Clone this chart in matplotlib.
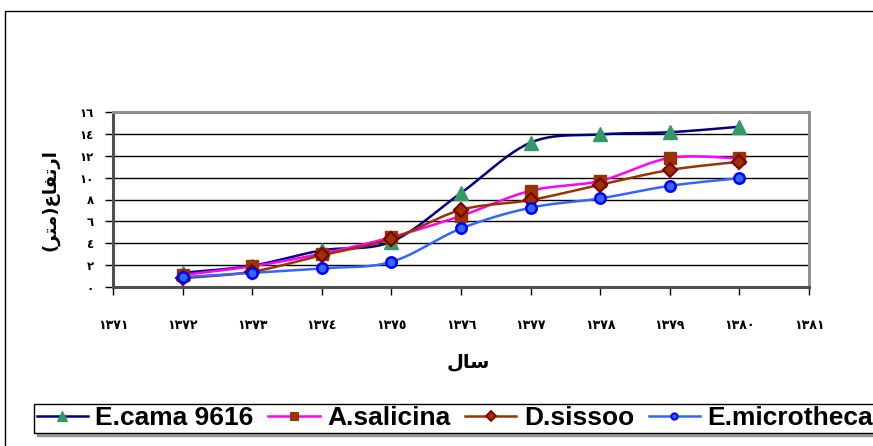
import numpy as np
import matplotlib
matplotlib.use("Agg")
import matplotlib.pyplot as plt
from matplotlib.patches import Rectangle

# ---- data -------------------------------------------------------------
years = [1372, 1373, 1374, 1375, 1376, 1377, 1378, 1379, 1380]
e_cama = [1.3, 1.95, 3.35, 4.15, 8.6, 13.2, 13.95, 14.15, 14.65]
a_salicina = [1.1, 1.9, 3.05, 4.55, 6.5, 8.8, 9.7, 11.8, 11.75]
d_sissoo = [0.8, 1.4, 2.9, 4.4, 7.05, 7.95, 9.35, 10.7, 11.45]
e_microtheca = [0.9, 1.3, 1.7, 2.3, 5.35, 7.25, 8.1, 9.25, 9.95]

series_names = ["E.cama 9616", "A.salicina", "D.sissoo", "E.microtheca"]

x_ticks = list(range(1371, 1382))
y_ticks = list(range(0, 17, 2))

AR_DIGITS = str.maketrans("0123456789", "\u0660\u0661\u0662\u0663\u0664\u0665\u0666\u0667\u0668\u0669")
x_tick_labels = [str(v).translate(AR_DIGITS) for v in x_ticks]
y_tick_labels = [str(v).translate(AR_DIGITS) for v in y_ticks]

# Arabic-script labels written in visual (shaped, left-to-right) order
x_label = "\uFEDD\uFE8E\uFEB3"  # سال
y_label = "(\uFEAE\uFE98\uFEE3)\uFEC9\uFE8E\uFED4\uFE97\uFEAD\uFE8D"  # ارتفاع(متر)


def smooth(xs, ys, n=24):
    """Catmull-Rom curve through the points (Excel-style smoothed line)."""
    p = np.column_stack([xs, ys]).astype(float)
    p = np.vstack([p[0], p, p[-1]])
    out = []
    t = np.linspace(0, 1, n, endpoint=False)
    for i in range(1, len(p) - 2):
        p0, p1, p2, p3 = p[i - 1], p[i], p[i + 1], p[i + 2]
        c1 = p1 + (p2 - p0) / 6.0
        c2 = p2 - (p3 - p1) / 6.0
        tt = t[:, None]
        seg = ((1 - tt) ** 3) * p1 + 3 * ((1 - tt) ** 2) * tt * c1 \
            + 3 * (1 - tt) * tt ** 2 * c2 + tt ** 3 * p2
        out.append(seg)
    out.append(p[-2][None, :])
    out = np.vstack(out)
    return out[:, 0], out[:, 1]


styles = [
    dict(color="#000080", marker="^", mfc="#339966", mec="#339966", ms=10.5, mew=1, lms=7),
    dict(color="#FF00FF", marker="s", mfc="#993300", mec="#993300", ms=8, mew=1, lms=5.5),
    dict(color="#993300", marker="D", mfc="#993300", mec="#800000", ms=7.5, mew=1.6, lms=5.5),
    dict(color="#3366FF", marker="o", mfc="#3366FF", mec="#0000FF", ms=7.5, mew=1.8, lms=4.5),
]

fig = plt.figure(figsize=(8.73, 4.46), dpi=100)
fig.patch.set_facecolor("white")

# outer chart border
fig.add_artist(Rectangle((5 / 873, -0.2), 1.2, (446 - 11) / 446 + 0.2,
                         transform=fig.transFigure, fill=False,
                         edgecolor="black", linewidth=1.0))

ax = fig.add_axes([113 / 873, (446 - 287) / 446, (809 - 113) / 873, (287 - 112) / 446])
ax.set_facecolor("white")

handles = []
for name, ys, st in zip(series_names, [e_cama, a_salicina, d_sissoo, e_microtheca], styles):
    sx, sy = smooth(years, ys)
    ax.plot(sx, sy, color=st["color"], lw=1.8, zorder=3)
    ax.plot(years, ys, linestyle="none", marker=st["marker"], ms=st["ms"],
            mfc=st["mfc"], mec=st["mec"], mew=st["mew"], zorder=4)
    h, = ax.plot([], [], color=st["color"], lw=1.8, marker=st["marker"],
                 ms=st["lms"], mfc=st["mfc"], mec=st["mec"], mew=st["mew"] * 0.8)
    handles.append(h)

ax.set_xlim(1371, 1381)
ax.set_ylim(0, 16)
ax.set_xticks(x_ticks)
ax.set_xticklabels(x_tick_labels, fontsize=9, family="DejaVu Sans", fontweight="bold")
ax.set_yticks(y_ticks)
ax.set_yticklabels(y_tick_labels, fontsize=8.5, family="DejaVu Sans", fontweight="bold")
ax.tick_params(axis="x", direction="out", length=6, width=1, pad=17, color="black")
ax.tick_params(axis="y", direction="out", length=6, width=1, pad=8, color="black")
ax.yaxis.grid(True, color="black", linewidth=1.0)
ax.set_axisbelow(True)

for side in ["top", "right"]:
    ax.spines[side].set_color("#909090")
    ax.spines[side].set_linewidth(2.2)
for side in ["left", "bottom"]:
    ax.spines[side].set_color("#505050")
    ax.spines[side].set_linewidth(2.2)

fig.text(468 / 873, 1 - 362 / 446, x_label, ha="center", va="center",
         fontsize=14, fontweight="bold", family="DejaVu Sans")
fig.text(50 / 873, 1 - 200 / 446, y_label, ha="center", va="center", rotation=90,
         fontsize=13, fontweight="bold", family="DejaVu Sans")

leg = fig.legend(handles=handles, labels=series_names, loc="lower left",
                 bbox_to_anchor=(34 / 873, (446 - 433) / 446), ncol=4,
                 frameon=True, fancybox=False, shadow=True, borderpad=0.1,
                 borderaxespad=0, handlelength=1.95, handletextpad=0.28,
                 columnspacing=0.55,
                 prop={"family": "Liberation Sans", "weight": "bold", "size": 19})
leg.get_frame().set_edgecolor("black")
leg.get_frame().set_linewidth(1.0)

fig.savefig("out.png", dpi=100, facecolor="white")
